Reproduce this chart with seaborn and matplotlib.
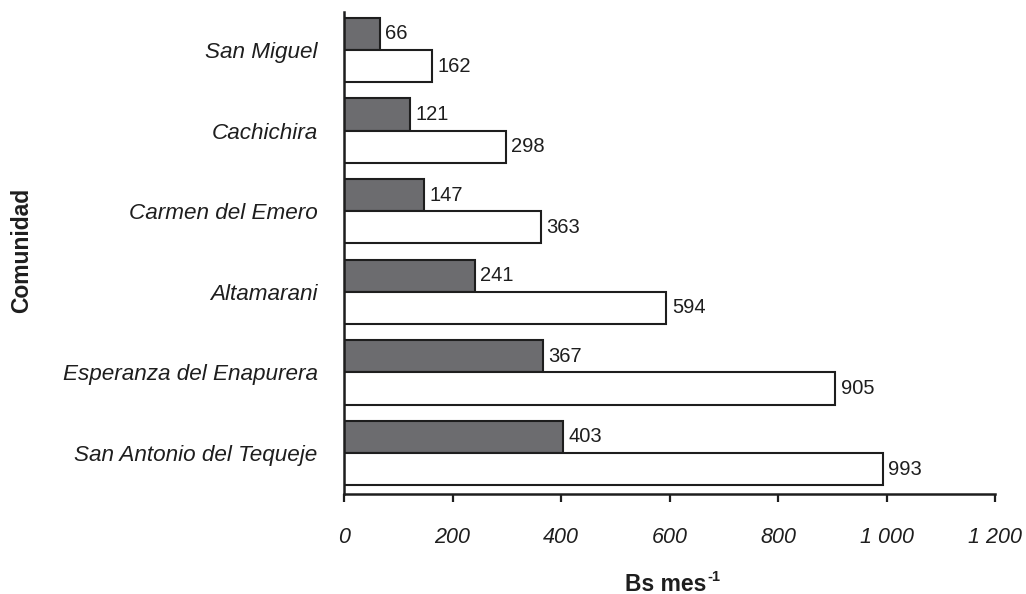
import matplotlib
matplotlib.use("Agg")
import matplotlib.pyplot as plt
import seaborn as sns
import pandas as pd

# Communities (top to bottom) and the two monthly series, Bs per month
comunidades = ["San Miguel", "Cachichira", "Carmen del Emero", "Altamarani",
               "Esperanza del Enapurera", "San Antonio del Tequeje"]
serie_gris = [66, 121, 147, 241, 367, 403]
serie_blanca = [162, 298, 363, 594, 905, 993]
series = ["Serie 1", "Serie 2"]
x_ticks = [0, 200, 400, 600, 800, 1000, 1200]
x_tick_labels = ["0", "200", "400", "600", "800", "1 000", "1 200"]

df = pd.DataFrame({
    "Comunidad": comunidades * 2,
    "Valor": serie_gris + serie_blanca,
    "Serie": [series[0]] * len(comunidades) + [series[1]] * len(comunidades),
})

sns.set_theme(style="ticks")
plt.rcParams["font.family"] = ["Liberation Sans", "DejaVu Sans"]
ink = "#1e1e1e"

fig = plt.figure(figsize=(10.26, 5.94), dpi=100)
ax = fig.add_axes([0.3353, 0.1684, 0.9698 - 0.3353, 0.9798 - 0.1684])

sns.barplot(data=df, y="Comunidad", x="Valor", hue="Serie", order=comunidades,
            hue_order=series, palette=["#6b6c70", "#ffffff"], orient="h",
            width=0.8, edgecolor=ink, linewidth=1.5, legend=False, ax=ax)

for cont in ax.containers:
    ax.bar_label(cont, padding=4, fontsize=14.5, color=ink)

ax.set_xlim(0, 1200)
ax.set_ylim(5.509, -0.471)
ax.set_xticks(x_ticks)
ax.set_xticklabels(x_tick_labels, fontsize=15.5, style="italic", color=ink)
ax.tick_params(axis="x", direction="out", length=6, width=1.6, pad=18, color=ink)
ax.tick_params(axis="y", length=0, pad=19)
for lab in ax.get_yticklabels():
    lab.set_fontsize(16.2)
    lab.set_style("italic")
    lab.set_color(ink)

for side in ["top", "right"]:
    ax.spines[side].set_visible(False)
for side in ["left", "bottom"]:
    ax.spines[side].set_linewidth(1.8)
    ax.spines[side].set_color(ink)

ax.set_xlabel("")
ax.set_ylabel("")

# Axis titles
fig.text(706 / 1026, 3 / 594, "Bs mes", fontsize=16.5, fontweight="bold",
         ha="right", va="baseline", color=ink)
fig.text(707 / 1026, 1 - 581 / 594, "-1", fontsize=10.5, fontweight="bold",
         ha="left", va="baseline", color=ink)
fig.text(0.0214, 1 - 250 / 594, "Comunidad", rotation=90, fontsize=16.5,
         fontweight="bold", va="center", ha="center", color=ink)

fig.savefig("out.png", dpi=100)
